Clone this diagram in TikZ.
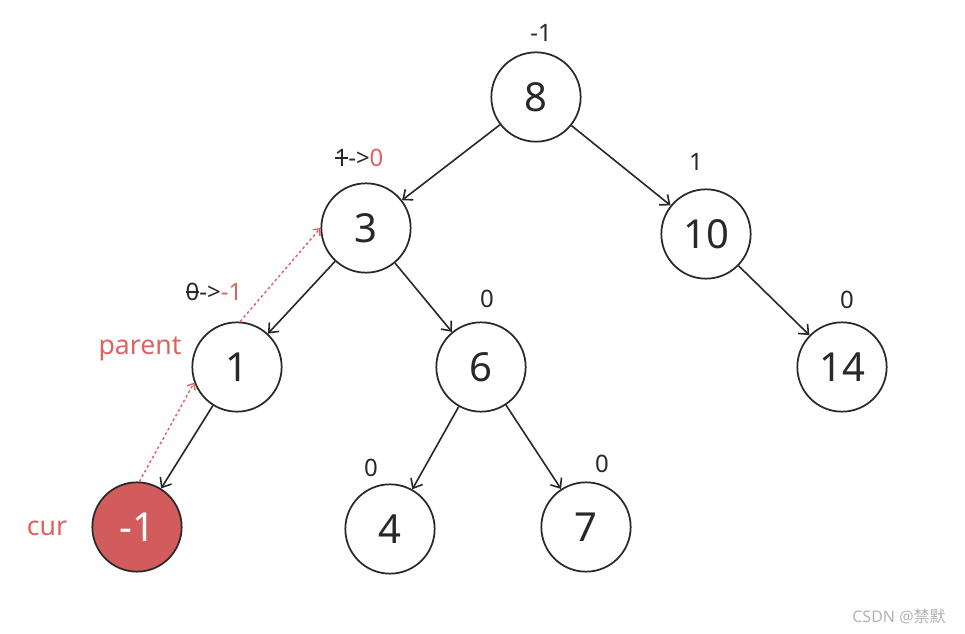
\documentclass[tikz,border=0pt]{standalone}
\usepackage{fontspec}
\setmainfont{Noto Sans}
\newfontfamily\cjk{Noto Sans CJK SC}
\usetikzlibrary{arrows.meta}
\definecolor{txtred}{RGB}{222,98,96}
\definecolor{fillred}{RGB}{210,92,92}
\definecolor{ink}{RGB}{40,40,40}
\newsavebox\stkbox
\newcommand\strk[1]{\sbox\stkbox{#1}\rlap{\raisebox{0.33em}{\rule{\wd\stkbox}{0.07em}}}\usebox\stkbox}
\tikzset{
  tnode/.style={circle,draw=ink,line width=1.3pt,minimum size=67pt,inner sep=0pt,font=\fontsize{30}{33}\selectfont,text=ink},
  curnode/.style={tnode,fill=fillred,text=white},
  edge/.style={draw=ink,line width=1.2pt,-{Straight Barb[length=6pt,width=10pt,line width=1.2pt]}},
  redarr/.style={draw=txtred,line width=1.1pt,dash pattern=on 2pt off 2pt,-{Straight Barb[length=4pt,width=7pt,line width=1pt]}},
  bal/.style={font=\fontsize{18}{20}\selectfont,text=ink,inner sep=0pt},
  redlab/.style={font=\fontsize{20}{22}\selectfont,text=txtred,inner sep=0pt}
}
\begin{document}
\begin{tikzpicture}[x=0.75pt,y=-0.75pt]
\useasboundingbox (0,0) rectangle (965,634);
\node[tnode] (n8) at (536,97) {8};
\node[tnode] (n3) at (366,228) {3};
\node[tnode] (n10) at (706,234) {10};
\node[tnode] (n1) at (237,367) {1};
\node[tnode] (n6) at (481,367) {6};
\node[tnode] (n14) at (842,367) {14};
\node[curnode] (cur) at (137,527) {-1};
\node[tnode] (n4) at (390,529) {4};
\node[tnode] (n7) at (586,527) {7};

\draw[edge] (n8) -- (n3);
\draw[edge] (n8) -- (n10);
\draw[edge] (n3) -- (n1);
\draw[edge] (n3) -- (n6);
\draw[edge] (n10) -- (n14);
\draw[edge] (n1) -- (cur);
\draw[edge] (n6) -- (n4);
\draw[edge] (n6) -- (n7);

\draw[redarr] (cur.87) -- (n1.200);
\draw[redarr] (n1.86) -- (n3.180);

\node[bal] (b8) at (541,33) {-1};
\node[bal] (b3) at (359,158) {\strk{1}->\textcolor{txtred}{0}};
\node[bal] (b10) at (696,162) {1};
\node[bal] (b1) at (214,292) {\strk{0}->\textcolor{txtred}{-1}};
\node[bal] (b6) at (487,299) {0};
\node[bal] (b14) at (847,300) {0};
\node[bal] (b4) at (371,468) {0};
\node[bal] (b7) at (602,464) {0};
\node[redlab] (lp) at (140,349) {parent};
\node[redlab] (lc) at (47,528) {cur};
\node[font=\fontsize{12}{14}\selectfont,text=black!30,inner sep=0pt] (wm) at (899,616) {CSDN @\cjk 禁默};
\end{tikzpicture}
\end{document}
